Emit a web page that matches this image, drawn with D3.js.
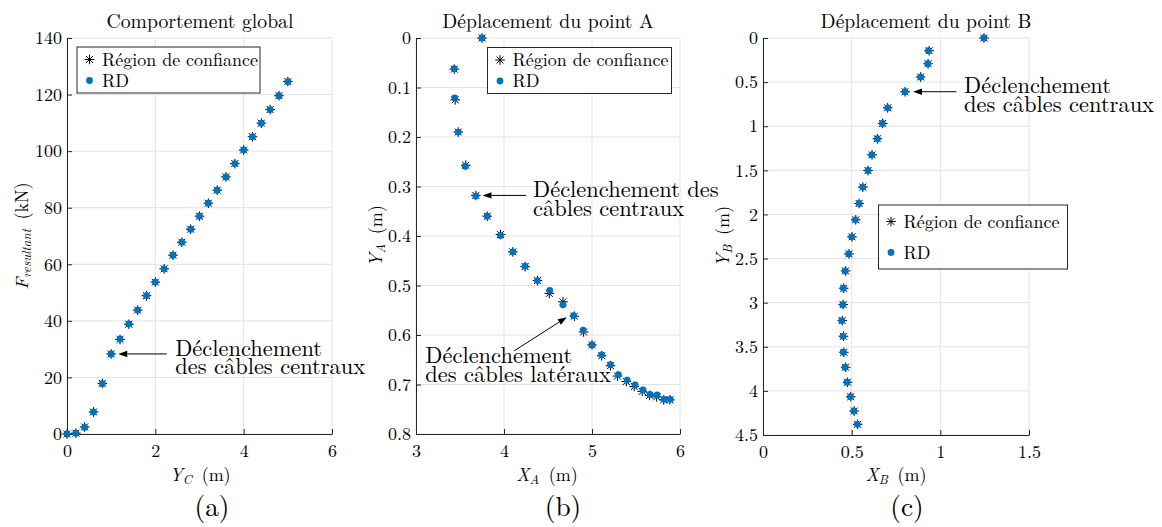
<!DOCTYPE html>
<html><head><meta charset="utf-8">
<script src="https://cdn.jsdelivr.net/npm/d3@7"></script>
<style>body{margin:0;background:#fff;}</style>
</head><body>
<svg id="chart" width="1162" height="527"></svg>
<script>
// ---------------- DATA ----------------
// Panel (a) : Comportement global
const yC      = [0,0.2,0.4,0.6,0.8,1.0,1.2,1.4,1.6,1.8,2.0,2.2,2.4,2.6,2.8,3.0,3.2,3.4,3.6,3.8,4.0,4.2,4.4,4.6,4.8,5.0];
const fRD     = [0,0.3,2.3,7.8,17.8,28.3,33.6,38.9,43.8,48.9,53.7,58.4,63.2,67.8,72.4,77.0,81.6,86.2,90.9,95.6,100.4,105.1,109.9,114.7,119.6,124.6];
const fConf   = [0,0.3,2.5,7.8,17.9,28.3,33.4,38.8,43.8,48.9,53.7,58.4,63.2,67.8,72.4,77.0,81.6,86.2,90.9,95.6,100.4,105.1,109.9,114.7,119.6,124.6];
const ticksA_x = [0,2,4,6];
const ticksA_y = [0,20,40,60,80,100,120,140];
const labelsA_x = ["0","2","4","6"];
const labelsA_y = ["0","20","40","60","80","100","120","140"];

// Panel (b) : Déplacement du point A
const xA_RD   = [3.75,3.435,3.44,3.48,3.56,3.68,3.81,3.96,4.10,4.24,4.38,4.52,4.67,4.79,4.90,5.00,5.11,5.21,5.30,5.40,5.49,5.58,5.66,5.74,5.82,5.89];
const yA_RD   = [0,0.062,0.121,0.190,0.259,0.319,0.360,0.399,0.432,0.461,0.490,0.510,0.539,0.561,0.590,0.620,0.640,0.660,0.680,0.691,0.701,0.711,0.720,0.721,0.730,0.730];
const xA_Conf = [3.75,3.435,3.445,3.48,3.565,3.68,3.81,3.96,4.10,4.24,4.38,4.515,4.67,4.80,4.905,5.00,5.11,5.21,5.29,5.39,5.48,5.57,5.655,5.735,5.815,5.885];
const yA_Conf = [0,0.063,0.125,0.190,0.257,0.318,0.360,0.397,0.432,0.462,0.490,0.516,0.533,0.562,0.594,0.620,0.642,0.662,0.683,0.694,0.704,0.714,0.722,0.725,0.731,0.731];
const ticksB_x = [3,4,5,6];
const ticksB_y = [0,0.1,0.2,0.3,0.4,0.5,0.6,0.7,0.8];
const labelsB_x = ["3","4","5","6"];
const labelsB_y = ["0","0.1","0.2","0.3","0.4","0.5","0.6","0.7","0.8"];

// Panel (c) : Déplacement du point B
const xB_RD   = [1.246,0.933,0.929,0.889,0.801,0.703,0.673,0.645,0.613,0.592,0.562,0.542,0.521,0.500,0.483,0.463,0.453,0.450,0.444,0.451,0.453,0.463,0.474,0.493,0.512,0.532];
const yB_RD   = [0,0.144,0.292,0.442,0.609,0.791,0.968,1.142,1.324,1.502,1.690,1.876,2.061,2.254,2.447,2.640,2.836,3.022,3.203,3.381,3.562,3.732,3.902,4.066,4.228,4.379];
const xB_Conf = [1.246,0.937,0.931,0.889,0.801,0.703,0.675,0.645,0.615,0.592,0.563,0.542,0.523,0.502,0.485,0.466,0.455,0.452,0.447,0.454,0.456,0.466,0.477,0.495,0.514,0.534];
const yB_Conf = [0,0.144,0.292,0.442,0.609,0.791,0.968,1.142,1.324,1.502,1.690,1.876,2.061,2.254,2.447,2.640,2.836,3.022,3.203,3.381,3.562,3.732,3.902,4.066,4.228,4.379];
const ticksC_x = [0,0.5,1,1.5];
const ticksC_y = [0,0.5,1,1.5,2,2.5,3,3.5,4,4.5];
const labelsC_x = ["0","0.5","1","1.5"];
const labelsC_y = ["0","0.5","1","1.5","2","2.5","3","3.5","4","4.5"];

const legendLabels = ["Région de confiance","RD"];
const titles = ["Comportement global","Déplacement du point A","Déplacement du point B"];
const panelLetters = ["(a)","(b)","(c)"];

// annotations (data coordinates: tip, tail, text anchor)
const annotA = [{tip:[1.16,28.3], tail:[2.26,28.3], text:[2.45,27.6], lines:["Déclenchement","des câbles centraux"]}];
const annotB = [
  {tip:[3.756,0.318], tail:[4.252,0.318], text:[4.33,0.322], lines:["Déclenchement des","câbles centraux"]},
  {tip:[4.714,0.564], tail:[4.116,0.632], text:[3.106,0.657], lines:["Déclenchement","des câbles latéraux"]}
];
const annotC = [{tip:[0.846,0.609], tail:[1.091,0.609], text:[1.134,0.624], lines:["Déclenchement","des câbles centraux"]}];

// ---------------- STYLE / LAYOUT ----------------
const BLUE = "#0072BD", AXC = "#262626", GRID = "#e3e3e3";
const FONT = "Latin Modern Roman";
const svg = d3.select("#chart");

function sizeFor(str, target){
  const t = svg.append("text").attr("font-family",FONT).attr("font-size",100).text(str);
  const w = t.node().getComputedTextLength(); t.remove();
  return 100*target/w;
}
const FS_TICK  = sizeFor("140", 27);
const FS_TITLE = sizeFor("Comportement global", 187);
const FS_LEG   = sizeFor("Région de confiance", 156);
const FS_ANN   = sizeFor("des câbles centraux", 190);
const FS_LET   = sizeFor("(a)", 35);
const FS_LAB   = FS_TICK;

function starPath(cx, cy, r){
  const d = r*0.72;
  return `M${cx-r},${cy}L${cx+r},${cy}M${cx},${cy-r}L${cx},${cy+r}` +
         `M${cx-d},${cy-d}L${cx+d},${cy+d}M${cx-d},${cy+d}L${cx+d},${cy-d}`;
}

function T(sel){ return sel.attr("font-family",FONT).attr("fill","#000"); }

function panel(cfg){
  const g = svg.append("g");
  const x = d3.scaleLinear().domain(cfg.xDomain).range([cfg.left, cfg.right]);
  const y = d3.scaleLinear().domain(cfg.yDomain).range(cfg.yRange);
  const top = Math.min(...cfg.yRange), bot = Math.max(...cfg.yRange);

  g.append("g").selectAll("line").data(cfg.xTicks).join("line")
    .attr("x1",d=>x(d)).attr("x2",d=>x(d)).attr("y1",top).attr("y2",bot)
    .attr("stroke",GRID).attr("stroke-width",1);
  g.append("g").selectAll("line").data(cfg.yTicks).join("line")
    .attr("x1",cfg.left).attr("x2",cfg.right).attr("y1",d=>y(d)).attr("y2",d=>y(d))
    .attr("stroke",GRID).attr("stroke-width",1);

  const ax = g.append("g").attr("transform",`translate(0,${bot})`)
    .call(d3.axisBottom(x).tickValues(cfg.xTicks).tickFormat((d,i)=>cfg.xLabels[i])
      .tickSizeInner(-5).tickSizeOuter(0).tickPadding(10.5));
  const ay = g.append("g").attr("transform",`translate(${cfg.left},0)`)
    .call(d3.axisLeft(y).tickValues(cfg.yTicks).tickFormat((d,i)=>cfg.yLabels[i])
      .tickSizeInner(-5).tickSizeOuter(0).tickPadding(5));
  [ax,ay].forEach(a=>{
    a.attr("font-family",FONT).attr("font-size",FS_TICK);
    a.select(".domain").attr("stroke",AXC).attr("stroke-width",1);
    a.selectAll(".tick line").attr("stroke",AXC);
    a.selectAll(".tick text").attr("font-family",FONT).attr("font-size",FS_TICK).attr("fill","#000");
  });

  const conf = cfg.confX.map((v,i)=>[v,cfg.confY[i]]);
  const rd = cfg.rdX.map((v,i)=>[v,cfg.rdY[i]]);
  g.append("g").selectAll("path").data(conf).join("path")
    .attr("d",d=>starPath(x(d[0]),y(d[1]),4.8))
    .attr("stroke","#000").attr("stroke-width",1).attr("fill","none");
  g.append("g").selectAll("circle").data(rd).join("circle")
    .attr("cx",d=>x(d[0])).attr("cy",d=>y(d[1])).attr("r",3.4).attr("fill",BLUE);

  T(g.append("text")).attr("x",cfg.titleX).attr("y",28).attr("text-anchor","middle")
    .attr("font-size",FS_TITLE).text(cfg.title);

  const xl = T(g.append("text")).attr("x",cfg.xLabX).attr("y",481).attr("text-anchor","middle").attr("font-size",FS_LAB);
  xl.append("tspan").attr("font-style","italic").text(cfg.xLab[0]);
  xl.append("tspan").attr("font-style","italic").attr("font-size",FS_LAB*0.72).attr("dy",3).text(cfg.xLab[1]);
  xl.append("tspan").attr("dy",-3).text("\u2009 (m)");

  const yl = T(g.append("text")).attr("transform",`translate(${cfg.yLabX},${(top+bot)/2}) rotate(-90)`)
    .attr("text-anchor","middle").attr("font-size",FS_LAB);
  yl.append("tspan").attr("font-style","italic").text(cfg.yLab[0]);
  yl.append("tspan").attr("font-style","italic").attr("font-size",FS_LAB*0.72).attr("dy",3).text(cfg.yLab[1]);
  yl.append("tspan").attr("dy",-3).text("\u2009 "+cfg.yLab[2]);

  T(g.append("text")).attr("x",cfg.letterX).attr("y",516).attr("text-anchor","middle")
    .attr("font-size",FS_LET).text(cfg.letter);

  const L = cfg.legend;
  g.append("rect").attr("x",L.x).attr("y",L.y).attr("width",L.w).attr("height",L.h)
    .attr("fill","#fff").attr("stroke",AXC).attr("stroke-width",1);
  g.append("path").attr("d",starPath(L.x+12.5,L.y+L.r1,4.8)).attr("stroke","#000").attr("fill","none");
  g.append("circle").attr("cx",L.x+12.5).attr("cy",L.y+L.r2).attr("r",3.4).attr("fill",BLUE);
  T(g.append("text")).attr("x",L.x+25).attr("y",L.y+L.r1+6).attr("font-size",FS_LEG).text(legendLabels[0]);
  T(g.append("text")).attr("x",L.x+25).attr("y",L.y+L.r2+6).attr("font-size",FS_LEG).text(legendLabels[1]);

  cfg.annots.forEach(a=>{
    const x1 = x(a.tail[0]), y1 = y(a.tail[1]), x2 = x(a.tip[0]), y2 = y(a.tip[1]);
    const ang = Math.atan2(y2-y1, x2-x1), hl = 9, hw = 3.2;
    const bx = x2 - hl*Math.cos(ang), by = y2 - hl*Math.sin(ang);
    g.append("line").attr("x1",x1).attr("y1",y1).attr("x2",bx).attr("y2",by)
      .attr("stroke","#000").attr("stroke-width",1);
    g.append("path").attr("d",`M${x2},${y2}L${bx - hw*Math.sin(ang)},${by + hw*Math.cos(ang)}L${bx + hw*Math.sin(ang)},${by - hw*Math.cos(ang)}Z`)
      .attr("fill","#000");
    a.lines.forEach((ln,i)=>{
      T(g.append("text")).attr("x",x(a.text[0])).attr("y",y(a.text[1])+i*18.5)
        .attr("font-size",FS_ANN).text(ln);
    });
  });
}

panel({xDomain:[0,6], yDomain:[0,140], left:67, right:332, yRange:[434,38],
  xTicks:ticksA_x, yTicks:ticksA_y, xLabels:labelsA_x, yLabels:labelsA_y,
  rdX:yC, rdY:fRD, confX:yC, confY:fConf,
  title:titles[0], titleX:200, xLab:["Y","C"], xLabX:200, yLab:["F","resultant","(kN)"], yLabX:28,
  letter:panelLetters[0], letterX:212,
  legend:{x:77,y:47,w:183,h:46,r1:12.5,r2:33.5}, annots:annotA});

panel({xDomain:[3,6], yDomain:[0,0.8], left:416, right:680, yRange:[38,434],
  xTicks:ticksB_x, yTicks:ticksB_y, xLabels:labelsB_x, yLabels:labelsB_y,
  rdX:xA_RD, rdY:yA_RD, confX:xA_Conf, confY:yA_Conf,
  title:titles[1], titleX:548, xLab:["X","A"], xLabX:547, yLab:["Y","A","(m)"], yLabX:382,
  letter:panelLetters[1], letterX:563,
  legend:{x:487.5,y:47.5,w:184,h:46,r1:12.5,r2:33.5}, annots:annotB});

panel({xDomain:[0,1.5], yDomain:[0,4.5], left:763, right:1029, yRange:[38,435],
  xTicks:ticksC_x, yTicks:ticksC_y, xLabels:labelsC_x, yLabels:labelsC_y,
  rdX:xB_RD, rdY:yB_RD, confX:xB_Conf, confY:yB_Conf,
  title:titles[2], titleX:926, xLab:["X","B"], xLabX:896, yLab:["Y","B","(m)"], yLabX:729,
  letter:panelLetters[2], letterX:907,
  legend:{x:878.5,y:205,w:189,h:64,r1:16.5,r2:47.5}, annots:annotC});
</script>
</body></html>
